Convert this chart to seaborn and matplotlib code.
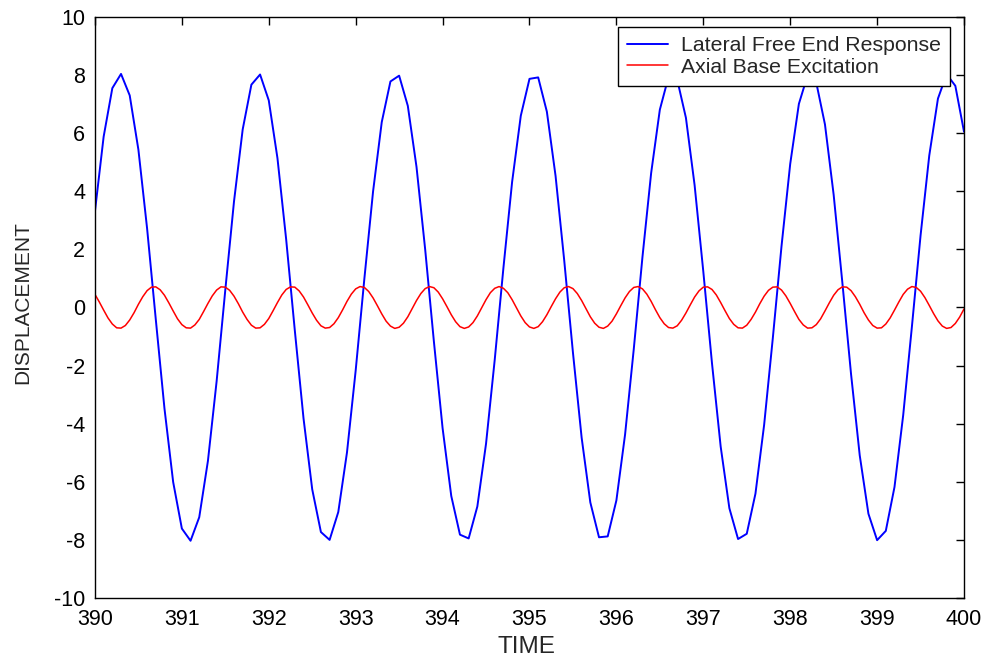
import numpy as np
import pandas as pd
import matplotlib
matplotlib.use("Agg")
import matplotlib.pyplot as plt
import seaborn as sns

# blue trace, sampled every 0.1 from 390 to 400
lateral_time = np.round(np.arange(390.0, 400.0001, 0.1), 2)
lateral_disp = [
    3.31, 5.88, 7.55, 8.04, 7.30, 5.43, 2.72, -0.41, -3.48, -6.01,
    -7.61, -8.03, -7.22, -5.28, -2.54, 0.61, 3.65, 6.13, 7.67, 8.02,
    7.13, 5.14, 2.35, -0.80, -3.82, -6.26, -7.73, -8.00, -7.04, -4.99,
    -2.17, 0.99, 3.99, 6.38, 7.78, 7.98, 6.94, 4.84, 1.99, -1.17,
    -4.15, -6.49, -7.82, -7.95, -6.85, -4.69, -1.80, 1.36, 4.32, 6.60,
    7.87, 7.92, 6.74, 4.53, 1.61, -1.55, -4.48, -6.71, -7.91, -7.88,
    -6.64, -4.37, -1.43, 1.74, 4.63, 6.81, 7.94, 7.84, 6.53, 4.21,
    1.24, -1.92, -4.79, -6.91, -7.97, -7.79, -6.41, -4.04, -1.05, 2.11,
    4.94, 7.01, 7.99, 7.74, 6.30, 3.88, 0.86, -2.29, -5.09, -7.10,
    -8.01, -7.69, -6.18, -3.71, -0.67, 2.48, 5.23, 7.19, 8.03, 7.63,
    6.05,
]

# red trace, sampled every 0.05 from 390 to 400
axial_time = np.round(np.arange(390.0, 400.0001, 0.05), 2)
axial_disp = [
    0.45, 0.19, -0.09, -0.36, -0.57, -0.70, -0.71, -0.62, -0.43, -0.18,
    0.11, 0.37, 0.58, 0.70, 0.71, 0.61, 0.42, 0.16, -0.12, -0.39,
    -0.59, -0.70, -0.71, -0.60, -0.41, -0.14, 0.14, 0.40, 0.60, 0.71,
    0.70, 0.59, 0.39, 0.13, -0.16, -0.41, -0.61, -0.71, -0.70, -0.58,
    -0.38, -0.11, 0.17, 0.43, 0.62, 0.71, 0.70, 0.57, 0.36, 0.09,
    -0.19, -0.44, -0.63, -0.71, -0.69, -0.56, -0.35, -0.08, 0.21, 0.46,
    0.64, 0.72, 0.69, 0.55, 0.33, 0.06, -0.22, -0.47, -0.64, -0.72,
    -0.68, -0.54, -0.32, -0.04, 0.24, 0.48, 0.65, 0.72, 0.68, 0.53,
    0.30, 0.03, -0.25, -0.49, -0.66, -0.72, -0.67, -0.52, -0.29, -0.01,
    0.27, 0.51, 0.66, 0.72, 0.66, 0.51, 0.27, -0.01, -0.29, -0.52,
    -0.67, -0.72, -0.66, -0.49, -0.25, 0.03, 0.30, 0.53, 0.68, 0.72,
    0.65, 0.48, 0.24, -0.04, -0.32, -0.54, -0.68, -0.72, -0.64, -0.47,
    -0.22, 0.06, 0.33, 0.55, 0.69, 0.72, 0.64, 0.46, 0.21, -0.08,
    -0.35, -0.56, -0.69, -0.71, -0.63, -0.44, -0.19, 0.09, 0.36, 0.57,
    0.70, 0.71, 0.62, 0.43, 0.17, -0.11, -0.38, -0.58, -0.70, -0.71,
    -0.61, -0.41, -0.16, 0.13, 0.39, 0.59, 0.70, 0.71, 0.60, 0.40,
    0.14, -0.14, -0.41, -0.60, -0.71, -0.70, -0.59, -0.39, -0.12, 0.16,
    0.42, 0.61, 0.71, 0.70, 0.58, 0.37, 0.11, -0.18, -0.43, -0.62,
    -0.71, -0.70, -0.57, -0.36, -0.09, 0.19, 0.45, 0.63, 0.72, 0.69,
    0.56, 0.34, 0.07, -0.21, -0.46, -0.64, -0.72, -0.69, -0.55, -0.33,
    -0.05,
]

x_ticks = list(range(390, 401))
y_ticks = list(range(-10, 11, 2))

sns.set_style("white")
plt.rcParams["font.family"] = ["Liberation Sans", "DejaVu Sans"]
plt.rcParams["axes.unicode_minus"] = False

lateral = pd.DataFrame({"time": lateral_time, "disp": lateral_disp})
axial = pd.DataFrame({"time": axial_time, "disp": axial_disp})

fig = plt.figure(figsize=(9.85, 6.58), dpi=100)
ax = fig.add_axes([0.0964, 0.0912, 0.8823, 0.883])

sns.lineplot(data=lateral, x="time", y="disp", ax=ax, color="#0000ff",
             lw=1.4, label="Lateral Free End Response")
sns.lineplot(data=axial, x="time", y="disp", ax=ax, color="#ff0000",
             lw=1.1, label="Axial Base Excitation")

ax.set_xlim(390, 400)
ax.set_ylim(-10, 10)
ax.set_xticks(x_ticks)
ax.set_yticks(y_ticks)
ax.tick_params(direction="in", length=6, width=1, labelsize=15.5,
               top=True, right=True, colors="black")
ax.tick_params(axis="x", pad=8)
ax.tick_params(axis="y", pad=7)
for side in ax.spines.values():
    side.set_color("black")
    side.set_linewidth(1)
ax.set_xlabel("TIME", fontsize=17.5, va="top")
ax.xaxis.set_label_coords(0.497, -0.066)
ax.set_ylabel("DISPLACEMENT", fontsize=15)
ax.yaxis.set_label_coords(-0.072, 0.508)

leg = ax.legend(loc="upper right", bbox_to_anchor=(0.984, 0.983),
                fontsize=15.3, frameon=True, fancybox=False, framealpha=1,
                edgecolor="black", handlelength=1.9, handletextpad=0.6,
                borderpad=0.45, labelspacing=0.1, borderaxespad=0)
leg.get_frame().set_linewidth(1)

fig.savefig("out.png", dpi=100)
